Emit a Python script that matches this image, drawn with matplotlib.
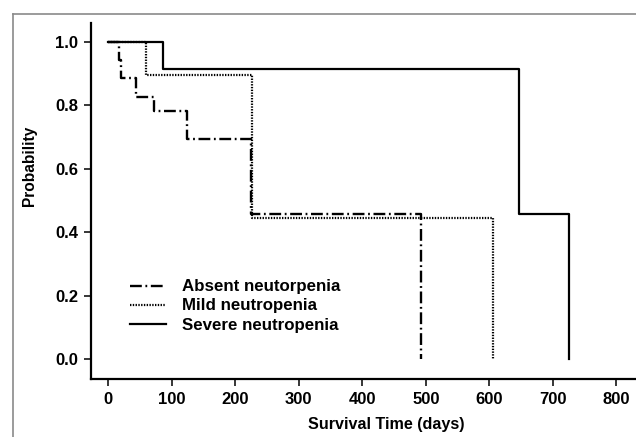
import matplotlib
matplotlib.use("Agg")
import matplotlib.pyplot as plt
from matplotlib.lines import Line2D

plt.rcParams['font.family'] = ['Liberation Sans', 'DejaVu Sans']
plt.rcParams['font.weight'] = 'bold'
plt.rcParams['lines.scale_dashes'] = False

# Kaplan-Meier steps (time in days, survival probability)
absent_t = [0, 17, 20, 44, 72, 124, 225, 492]
absent_s = [1.0, 0.943, 0.886, 0.828, 0.781, 0.695, 0.459, 0.0]

mild_t = [0, 59, 226, 606]
mild_s = [1.0, 0.895, 0.444, 0.0]

severe_t = [0, 86, 647, 725]
severe_s = [1.0, 0.915, 0.458, 0.0]

labels = ['Absent neutorpenia', 'Mild neutropenia', 'Severe neutropenia']
x_ticks = [0, 100, 200, 300, 400, 500, 600, 700, 800]
y_ticks = [0.0, 0.2, 0.4, 0.6, 0.8, 1.0]

W, H = 636, 437
fig = plt.figure(figsize=(W / 100, H / 100), dpi=100)

# axes box in pixels
left, right, top, bottom = 90.7, 636, 23, 379.3
ax = fig.add_axes([left / W, 1 - bottom / H, (right - left) / W, (bottom - top) / H])

# grey frame around the figure (only top and left visible)
fig.add_artist(Line2D([12.7 / W, 12.7 / W], [0, 1 - 14 / H], transform=fig.transFigure,
                      color='#8a8a8a', lw=1.2))
fig.add_artist(Line2D([12.7 / W, 1], [1 - 14 / H, 1 - 14 / H], transform=fig.transFigure,
                      color='#8a8a8a', lw=1.2))

ax.plot(absent_t, absent_s, drawstyle='steps-post', color='black', lw=1.7,
        dashes=(8.5, 2.6, 1.3, 2.6), label=labels[0])
ax.plot(mild_t, mild_s, drawstyle='steps-post', color='black', lw=1.6,
        dashes=(1.0, 1.0), label=labels[1])
ax.plot(severe_t, severe_s, drawstyle='steps-post', color='black', lw=1.6,
        label=labels[2])

ax.set_xlim(-27.7, 831)
ax.set_ylim(-0.064, 1.06)
ax.set_xticks(x_ticks)
ax.set_yticks(y_ticks)
ax.set_yticklabels(['%.1f' % v for v in y_ticks])

for s in ['top', 'right']:
    ax.spines[s].set_visible(False)
for s in ['left', 'bottom']:
    ax.spines[s].set_linewidth(1.6)
ax.tick_params(direction='out', length=5, width=1.1, labelsize=12, pad=4)

ax.set_xlabel('Survival Time (days)', fontsize=11.6, fontweight='bold', va='center')
ax.xaxis.set_label_coords(0.5415, -0.128)
ax.set_ylabel('Probability', fontsize=11.2, fontweight='bold', va='center')
ax.yaxis.set_label_coords(-0.113, 0.60)

leg = ax.legend(loc='center left', bbox_to_anchor=(130 / W, 1 - 306 / H),
                bbox_transform=fig.transFigure, frameon=False, fontsize=12.2,
                handlelength=2.1, handletextpad=0.95, labelspacing=0.24,
                borderpad=0, borderaxespad=0)

fig.savefig('out.png', dpi=100)
